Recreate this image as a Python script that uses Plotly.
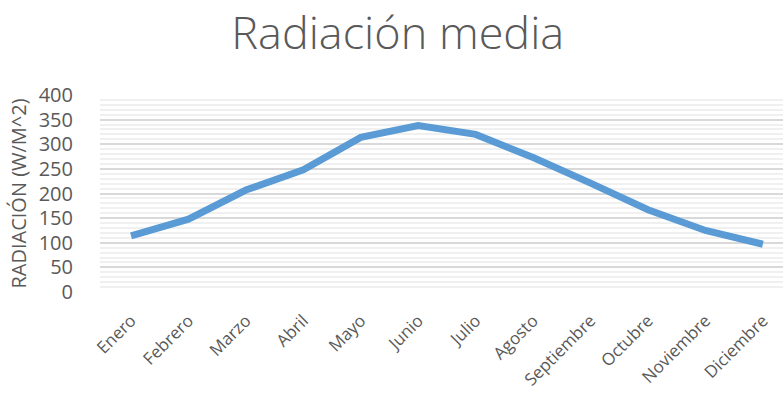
import plotly.graph_objects as go

meses = ["Enero", "Febrero", "Marzo", "Abril", "Mayo", "Junio", "Julio",
         "Agosto", "Septiembre", "Octubre", "Noviembre", "Diciembre"]
radiacion = [114, 148, 207, 248, 314, 338, 320, 273, 221, 167, 125, 97]
y_ticks = [0, 50, 100, 150, 200, 250, 300, 350, 400]

W, H = 783, 405
L, R, T, B = 100, 0, 95, 113

fig = go.Figure()
fig.add_trace(go.Scatter(
    x=meses, y=radiacion, mode="lines",
    line=dict(color="#5b9bd5", width=7),
    hoverinfo="x+y",
))

fig.update_layout(
    width=W, height=H,
    margin=dict(l=L, r=R, t=T, b=B, autoexpand=False),
    paper_bgcolor="white", plot_bgcolor="white",
    showlegend=False,
    font=dict(family="Open Sans", color="#595959"),
    title=dict(text="Radiación media", x=0.508, xanchor="center",
               y=1 - 33 / H, yanchor="middle",
               font=dict(family="Open Sans", size=45, color="#595959", weight=300)),
)
fig.update_xaxes(
    type="category", range=[-0.54, 11.35], automargin=False,
    tickangle=-45, tickfont=dict(size=17, color="#595959"),
    showgrid=False, zeroline=False, showline=False,
    ticks="outside", ticklen=11, tickcolor="rgba(0,0,0,0)",
)
fig.update_yaxes(
    range=[0, 400], tickvals=y_ticks, automargin=False,
    tickfont=dict(size=20, color="#595959"),
    gridcolor="#d9d9d9", gridwidth=1.5, zeroline=False, showline=False,
    minor=dict(dtick=10, showgrid=True, gridcolor="#f0f0f0", gridwidth=1.5),
    ticks="outside", ticklen=22, tickcolor="rgba(0,0,0,0)",
    title=dict(text="RADIACIÓN (W/M^2)", standoff=6,
               font=dict(family="Open Sans", size=20, color="#595959")),
)

fig.write_html("out.html", config={"displayModeBar": False},
               post_script="document.body.style.margin='0';")
